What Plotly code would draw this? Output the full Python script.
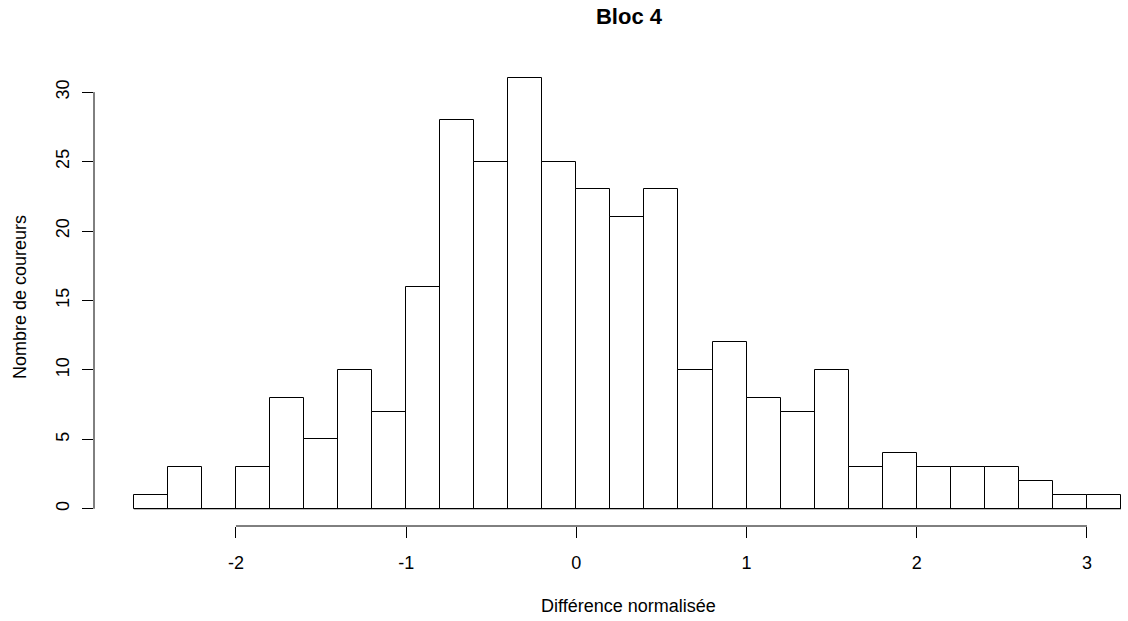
import plotly.graph_objects as go

# Histogram bins (left edges, width 0.2) and counts
bin_left = [-2.6, -2.4, -2.2, -2.0, -1.8, -1.6, -1.4, -1.2, -1.0, -0.8,
            -0.6, -0.4, -0.2, 0.0, 0.2, 0.4, 0.6, 0.8, 1.0, 1.2,
            1.4, 1.6, 1.8, 2.0, 2.2, 2.4, 2.6, 2.8, 3.0]
bin_width = 0.2
counts = [1, 3, 0, 3, 8, 5, 10, 7, 16, 28,
          25, 31, 25, 23, 21, 23, 10, 12, 8, 7,
          10, 3, 4, 3, 3, 3, 2, 1, 1]

x_ticks = [-2, -1, 0, 1, 2, 3]
y_ticks = [0, 5, 10, 15, 20, 25, 30]

title = "Bloc 4"
x_title = "Différence normalisée"
y_title = "Nombre de coureurs"

FONT = "Liberation Sans, Arial, sans-serif"
FS = 18

W, H = 1128, 621
ML, MR, MT, MB = 94, 0, 61, 95
PW = W - ML - MR
PH = H - MT - MB

fig = go.Figure()
fig.add_trace(go.Bar(
    x=bin_left, y=counts, width=bin_width, offset=0,
    marker=dict(color="white", line=dict(color="black", width=1)),
    hoverinfo="x+y", showlegend=False,
))

shapes = [
    # baseline under all bins (zero-height bins show as a line in R)
    dict(type="line", xref="x", yref="y", x0=bin_left[0], x1=bin_left[-1] + bin_width,
         y0=0, y1=0, line=dict(color="black", width=1)),
    # R style axis lines spanning first to last tick
    dict(type="line", xref="x", yref="paper", x0=x_ticks[0], x1=x_ticks[-1],
         y0=0, y1=0, line=dict(color="black", width=1)),
    dict(type="line", xref="paper", yref="y", x0=0, x1=0,
         y0=y_ticks[0], y1=y_ticks[-1], line=dict(color="black", width=1)),
]

def px_to_paper_x(px):
    return (px - ML) / PW

def px_to_paper_y(py):
    return (H - MB - py) / PH

annotations = [
    dict(text=x_title, xref="paper", yref="paper", x=px_to_paper_x(628), y=px_to_paper_y(606),
         xanchor="center", yanchor="middle", showarrow=False,
         font=dict(family=FONT, size=FS, color="black")),
    dict(text=y_title, xref="paper", yref="paper", x=px_to_paper_x(20), y=px_to_paper_y(297),
         xanchor="center", yanchor="middle", showarrow=False, textangle=-90,
         font=dict(family=FONT, size=FS, color="black")),
]

fig.update_layout(
    width=W, height=H,
    margin=dict(l=ML, r=MR, t=MT, b=MB, autoexpand=False),
    paper_bgcolor="white", plot_bgcolor="white",
    bargap=0,
    title=dict(text="<b>" + title + "</b>", xref="container", yref="container",
               x=629 / W, y=1 - 16 / H, xanchor="center", yanchor="middle",
               font=dict(family=FONT, size=22, color="black")),
    shapes=shapes,
    annotations=annotations,
    font=dict(family=FONT, size=FS, color="black"),
)

fig.update_xaxes(
    range=[-2.834, 3.241], showgrid=False, zeroline=False, showline=False,
    tickmode="array", tickvals=x_ticks, ticktext=[str(v) for v in x_ticks],
    ticks="outside", ticklen=11, tickwidth=1, tickcolor="black",
    ticklabelstandoff=9,
    tickfont=dict(family=FONT, size=FS, color="black"),
)
fig.update_yaxes(
    range=[-1.24, 32.24], showgrid=False, zeroline=False, showline=False,
    tickmode="array", tickvals=y_ticks, ticktext=[str(v) for v in y_ticks],
    ticks="outside", ticklen=11, tickwidth=1, tickcolor="black", tickangle=-90,
    ticklabelstandoff=6,
    tickfont=dict(family=FONT, size=FS, color="black"),
)

fig.write_html("out.html")
